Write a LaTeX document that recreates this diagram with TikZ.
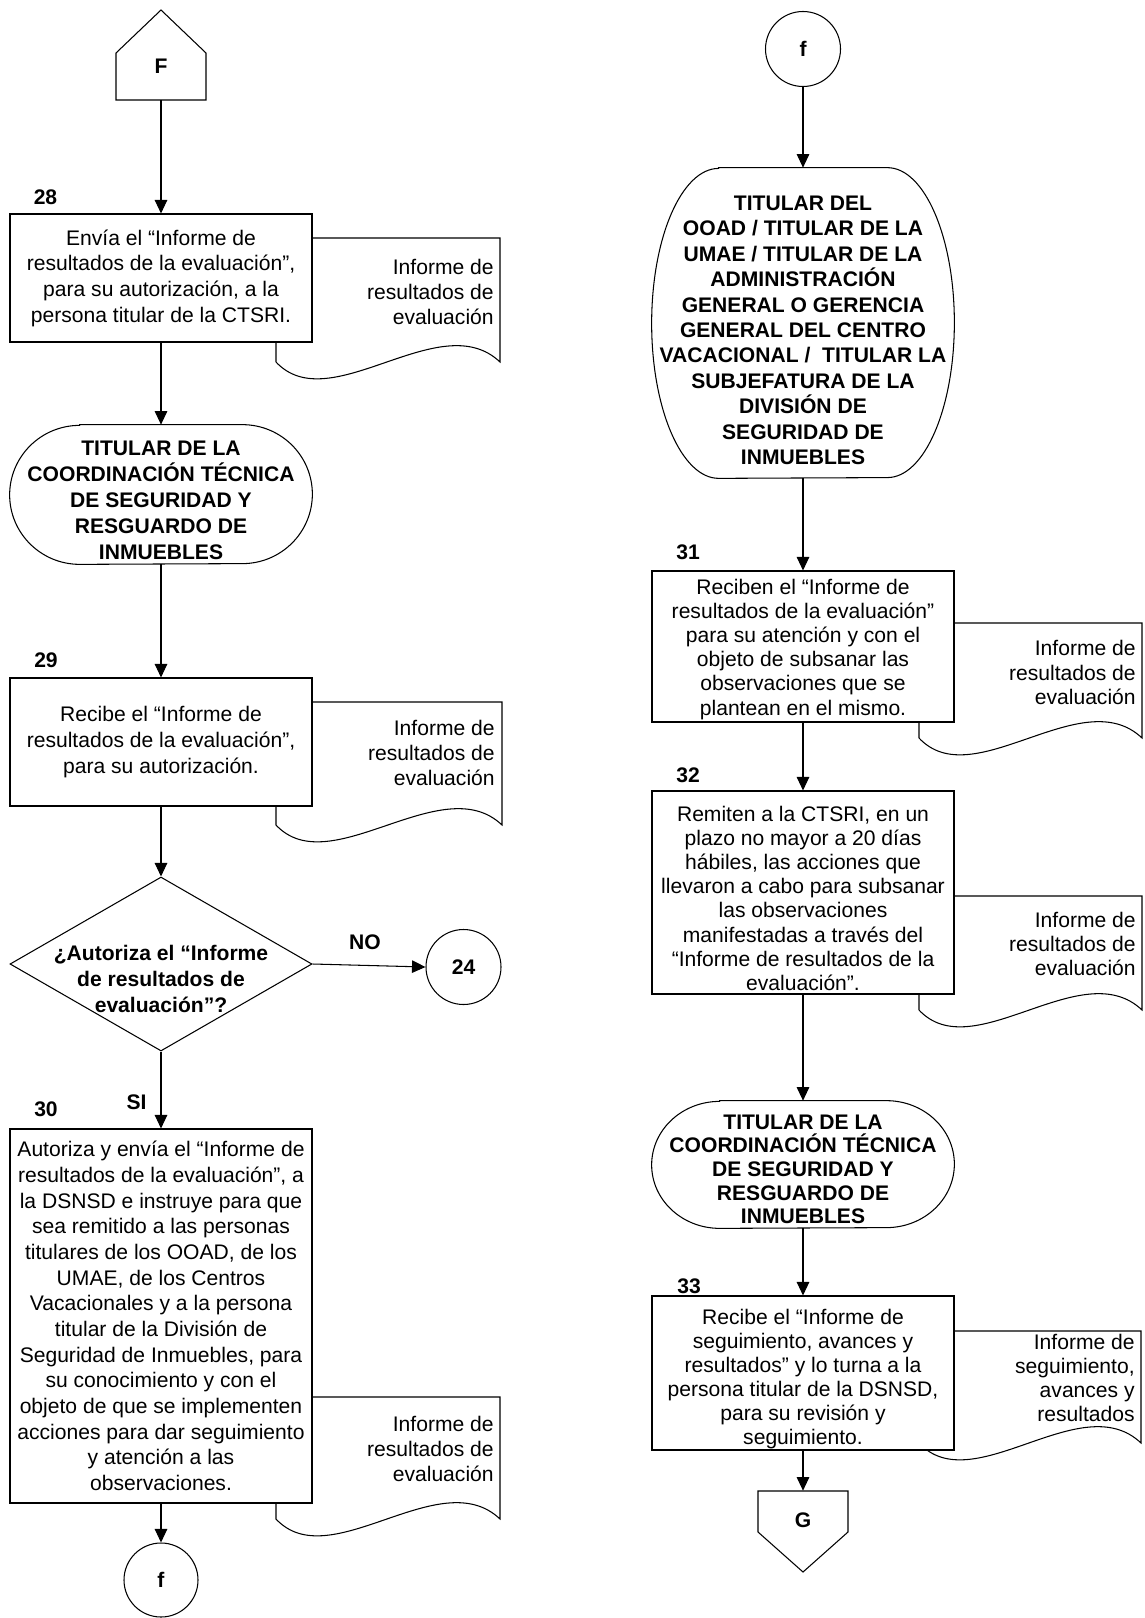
\documentclass[tikz,border=0pt]{standalone}
\usepackage{fontspec}
\setmainfont{Liberation Sans}
\usetikzlibrary{arrows.meta,shapes.geometric}

\newcommand\PX{0.02cm}
% invisible strut that lowers a centred text block by #1
\newcommand\dn[1]{\rule{0pt}{\dimexpr8.6pt+#1*2\relax}}
% stadium-like terminal outline around a named node: #1 name, #2 x radius, #3 y radius (half height)
\newcommand\termsh[3]{%
  \draw[shapeline] ([xshift=#2]#1.north west) -- ([xshift=-#2]#1.north east)
    arc[start angle=90,end angle=-90,x radius=#2,y radius=#3]
    -- ([xshift=#2]#1.south west)
    arc[start angle=270,end angle=90,x radius=#2,y radius=#3] -- cycle;}
% document symbol: #1 left x, #2 top y, #3 right x, #4 y of bottom ends
\newcommand\docsh[4]{%
  \draw[shapeline,fill=white] (#1,#4) -- (#1,#2) -- (#3,#2) -- (#3,#4)
    .. controls +(-60,-57) and +(54,58) .. (#1,#4) -- cycle;}

\begin{document}
\begin{tikzpicture}[x=0.02cm,y=-0.02cm,
  every node/.style={inner sep=0pt},
  shapeline/.style={line width=0.6pt,draw=black},
  arr/.style={line width=0.6pt,-{Triangle[width=0.25cm,length=0.27cm]}},
  procL/.style={draw,line width=0.6pt,fill=white,minimum width=302*\PX,align=center,
    font=\fontsize{12}{14.6}\selectfont},
  procR/.style={draw,line width=0.6pt,fill=white,minimum width=302*\PX,align=center,
    font=\fontsize{12}{13.7}\selectfont},
  termnode/.style={minimum width=302*\PX,align=center},
  docL/.style={anchor=east,align=right,font=\fontsize{12}{14.4}\selectfont},
  docR/.style={anchor=east,align=right,font=\fontsize{12}{13.7}\selectfont},
  numlbl/.style={font=\bfseries\fontsize{12}{14}\selectfont},
  conncirc/.style={draw,circle,line width=0.6pt,minimum size=75*\PX,
    font=\bfseries\fontsize{12}{14}\selectfont},
  offpage/.style={minimum width=90*\PX,font=\bfseries\fontsize{12}{14}\selectfont},
]
\useasboundingbox (0,0) rectangle (1144,1618);

% ================= LEFT COLUMN =================
% off-page connector F
\node[offpage,minimum height=90*\PX] (F) at (161,55) {\raisebox{-0.22cm}[\height][\depth]{F}};
\draw[shapeline] (116,100) -- (116,53) -- (161,10) -- (206,53) -- (206,100) -- cycle;

% step 28
\node[numlbl] (n28) at (45.5,197) {28};
\docsh{276}{238}{500}{362}
\node[procL,minimum height=128*\PX] (b28) at (161,278)
  {Envía el “Informe de\\resultados de la evaluación”,\\para su autorización, a la\\persona titular de la CTSRI.};
\node[docL] (d28) at (494,292) {Informe de\\resultados de\\evaluación};

% terminal CTSRI
\node[termnode,minimum height=139*\PX,font=\bfseries\fontsize{12}{14.8}\selectfont] (t1) at (161,494.5)
  {\dn{3.1pt}TITULAR DE LA\\COORDINACIÓN TÉCNICA\\DE SEGURIDAD Y\\RESGUARDO DE\\INMUEBLES};
\termsh{t1}{1.4cm}{1.39cm}

% step 29
\node[numlbl] (n29) at (46,660) {29};
\docsh{276}{702}{502}{825}
\node[procL,minimum height=128*\PX] (b29) at (161,742)
  {Recibe el “Informe de\\resultados de la evaluación”,\\para su autorización.};
\node[docL] (d29) at (495,753) {Informe de\\resultados de\\evaluación};

% decision
\node[diamond,draw,line width=0.6pt,minimum width=302*\PX,minimum height=174*\PX] (dec) at (161,964) {};
\node[align=center,font=\bfseries\fontsize{12}{14.8}\selectfont] (dect) at (161,979)
  {¿Autoriza el “Informe\\de resultados de\\evaluación”?};
\node[conncirc] (c24) at (463.5,967) {24};
\node[numlbl] (lno) at (365,942) {NO};
\node[numlbl] (lsi) at (136.5,1102.5) {SI};

% step 30
\node[numlbl] (n30) at (46,1109) {30};
\docsh{276}{1397}{500}{1519}
\node[procL,minimum height=374*\PX] (b30) at (161,1316)
  {Autoriza y envía el “Informe de\\resultados de la evaluación”, a\\la DSNSD e instruye para que\\sea remitido a las personas\\titulares de los OOAD, de los\\UMAE, de los Centros\\Vacacionales y a la persona\\titular de la División de\\Seguridad de Inmuebles, para\\su conocimiento y con el\\objeto de que se implementen\\acciones para dar seguimiento\\y atención a las\\observaciones.};
\node[docL] (d30) at (494,1449) {Informe de\\resultados de\\evaluación};

\node[conncirc,minimum size=74*\PX] (cf1) at (161,1580) {f};

% left connectors
\draw[arr] (F.south) -- (b28.north);
\draw[arr] (b28.south) -- (t1.north);
\draw[arr] (t1.south) -- (b29.north);
\draw[arr] (b29.south) -- (dec.north);
\draw[arr] (dec.east) -- (c24.west);
\draw[arr] (dec.south) -- (b30.north);
\draw[arr] (b30.south) -- (cf1.north);

% ================= RIGHT COLUMN =================
\node[conncirc] (cf2) at (803,49) {f};

\node[termnode,minimum height=310*\PX,font=\bfseries\fontsize{12}{14.5}\selectfont] (t2) at (803,323)
  {\dn{4pt}TITULAR DEL\\OOAD / TITULAR DE LA\\UMAE / TITULAR DE LA\\ADMINISTRACIÓN\\GENERAL O GERENCIA\\GENERAL DEL CENTRO\\VACACIONAL /\ \ TITULAR LA\\SUBJEFATURA DE LA\\DIVISIÓN DE\\SEGURIDAD DE\\INMUEBLES};
\termsh{t2}{1.34cm}{3.1cm}

% step 31
\node[numlbl] (n31) at (688,552) {31};
\docsh{919}{623}{1142}{738}
\node[procR,minimum height=151*\PX] (b31) at (803,646.5)
  {\dn{1.7pt}Reciben el “Informe de\\resultados de la evaluación”\\para su atención y con el\\objeto de subsanar las\\observaciones que se\\plantean en el mismo.};
\node[docR] (d31) at (1136,672.5) {Informe de\\resultados de\\evaluación};

% step 32
\node[numlbl] (n32) at (688,775) {32};
\docsh{919}{896}{1142}{1010}
\node[procR,minimum height=203*\PX] (b32) at (803,892.5)
  {\dn{3.4pt}Remiten a la CTSRI, en un\\plazo no mayor a 20 días\\hábiles, las acciones que\\llevaron a cabo para subsanar\\las observaciones\\manifestadas a través del\\“Informe de resultados de la\\evaluación”.};
\node[docR] (d32) at (1136,944) {Informe de\\resultados de\\evaluación};

% terminal CTSRI (right)
\node[termnode,minimum height=127*\PX,font=\bfseries\fontsize{12}{13.4}\selectfont] (t3) at (803,1164.5)
  {\dn{2.6pt}TITULAR DE LA\\COORDINACIÓN TÉCNICA\\DE SEGURIDAD Y\\RESGUARDO DE\\INMUEBLES};
\termsh{t3}{1.36cm}{1.27cm}

% step 33
\node[numlbl] (n33) at (689,1286) {33};
\docsh{919}{1331}{1141}{1443}
\node[procR,minimum height=154*\PX] (b33) at (803,1373)
  {\dn{3.4pt}Recibe el “Informe de\\seguimiento, avances y\\resultados” y lo turna a la\\persona titular de la DSNSD,\\para su revisión y\\seguimiento.};
\node[docR] (d33) at (1135,1378) {Informe de\\seguimiento,\\avances y\\resultados};

% off-page connector G
\node[offpage,minimum height=81*\PX] (G) at (803,1531.5) {\raisebox{0.23cm}[\height][\depth]{G}};
\draw[shapeline] (758,1491) -- (848,1491) -- (848,1532) -- (803,1572) -- (758,1532) -- cycle;

% right connectors
\draw[arr] (cf2.south) -- (t2.north);
\draw[arr] (t2.south) -- (b31.north);
\draw[arr] (b31.south) -- (b32.north);
\draw[arr] (b32.south) -- (t3.north);
\draw[arr] (t3.south) -- (b33.north);
\draw[arr] (b33.south) -- (G.north);
\end{tikzpicture}
\end{document}
